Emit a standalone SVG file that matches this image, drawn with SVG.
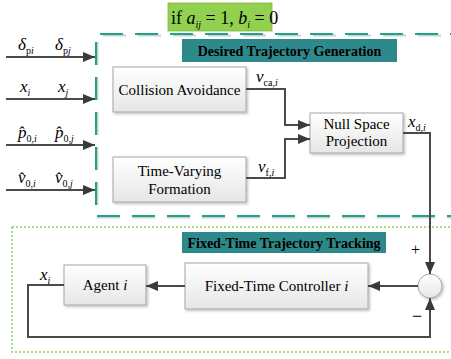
<svg xmlns="http://www.w3.org/2000/svg" width="451" height="359" viewBox="0 0 451 359">
  <style>
    .box { fill: url(#boxFill); stroke: #a6a6a6; stroke-width: 1; filter: url(#shadow); }
    .arr { fill: none; stroke: #4a4a4a; stroke-width: 2; marker-end: url(#head); }
  </style>
  <defs>
    <linearGradient id="boxFill" x1="0" y1="0" x2="0" y2="1">
      <stop offset="0" stop-color="#ffffff"/>
      <stop offset="1" stop-color="#e6e6e6"/>
    </linearGradient>
    <filter id="shadow" x="-10%" y="-10%" width="130%" height="140%">
      <feDropShadow dx="1.5" dy="1.5" stdDeviation="1" flood-color="#000" flood-opacity="0.25"/>
    </filter>
    <marker id="head" viewBox="0 0 12 10" refX="12" refY="5" markerWidth="12" markerHeight="10" markerUnits="userSpaceOnUse" orient="auto">
      <path d="M0,0 L12,5 L0,10 Z" fill="#3a3a3a"/>
    </marker>
  </defs>

  <!-- condition tag -->
  <g id="condition">
    <rect x="168" y="3" width="104" height="28" fill="#92d050" stroke="#7fb83e" stroke-width="0.8"/>
    <text font-family="Liberation Serif" font-size="18" x="171" y="24">if <tspan font-style="italic">a</tspan><tspan font-size="10" font-style="italic" dy="4">ij</tspan><tspan dy="-4"> = 1, </tspan><tspan font-style="italic">b</tspan><tspan font-size="10" font-style="italic" dy="4">i</tspan><tspan dy="-4"> = 0</tspan></text>
  </g>

  <!-- dashed frame: desired trajectory generation -->
  <g id="frame-generation">
    <path d="M470,217.5 L97.5,217.5 L97.5,35.5 L470,35.5" fill="none" stroke="#d0d0d0" stroke-width="2" stroke-dasharray="23 12"/>
    <path d="M470,216 L96,216 L96,34 L470,34" fill="none" stroke="#1fa38a" stroke-width="2" stroke-dasharray="23 12"/>
    <rect x="182" y="39" width="215" height="23" fill="#2e8a8a"/>
    <text font-family="Liberation Serif" font-size="14" font-weight="bold" text-anchor="middle" x="289.5" y="55.5">Desired Trajectory Generation</text>
  </g>

  <!-- dotted frame: fixed-time tracking -->
  <g id="frame-tracking">
    <rect x="12" y="227" width="460" height="125" fill="none" stroke="#92d050" stroke-width="1.5" stroke-dasharray="2 2"/>
    <rect x="182" y="232" width="204" height="21" fill="#2e8a8a"/>
    <text font-family="Liberation Serif" font-size="14" font-weight="bold" text-anchor="middle" x="284" y="247.5">Fixed-Time Trajectory Tracking</text>
  </g>

  <!-- nodes -->
  <g id="collision-avoidance">
    <rect class="box" x="113" y="67" width="133" height="45"/>
    <text font-family="Liberation Serif" font-size="15" text-anchor="middle" x="179.5" y="94.5">Collision Avoidance</text>
  </g>
  <g id="time-varying-formation">
    <rect class="box" x="113" y="157" width="133" height="45"/>
    <text font-family="Liberation Serif" font-size="15" text-anchor="middle" x="179.5" y="176">Time-Varying</text>
    <text font-family="Liberation Serif" font-size="15" text-anchor="middle" x="179.5" y="194">Formation</text>
  </g>
  <g id="null-space-projection">
    <rect class="box" x="310" y="113" width="93" height="40"/>
    <text font-family="Liberation Serif" font-size="15" text-anchor="middle" x="356.5" y="129">Null Space</text>
    <text font-family="Liberation Serif" font-size="15" text-anchor="middle" x="356.5" y="146">Projection</text>
  </g>
  <g id="agent">
    <rect class="box" x="64" y="265" width="82" height="40"/>
    <text font-family="Liberation Serif" font-size="15" text-anchor="middle" x="105" y="290">Agent <tspan font-style="italic">i</tspan></text>
  </g>
  <g id="controller">
    <rect class="box" x="185" y="263" width="183" height="46"/>
    <text font-family="Liberation Serif" font-size="15" text-anchor="middle" x="276.5" y="291">Fixed-Time Controller <tspan font-style="italic">i</tspan></text>
  </g>
  <g id="sum">
    <circle cx="430" cy="286" r="12" fill="url(#boxFill)" stroke="#a6a6a6" stroke-width="1" filter="url(#shadow)"/>
  </g>

  <!-- connectors -->
  <g id="connectors">
    <path class="arr" d="M6,57 L95,57"/>
    <path class="arr" d="M6,99 L95,99"/>
    <path class="arr" d="M6,145 L95,145"/>
    <path class="arr" d="M6,190 L95,190"/>
    <path class="arr" d="M246,89 L285,89 L285,125 L310,125"/>
    <path class="arr" d="M246,178 L285,178 L285,139 L310,139"/>
    <path class="arr" d="M403,133 L430,133 L430,274"/>
    <path class="arr" d="M418,286 L368,286"/>
    <path class="arr" d="M185,286 L146,286"/>
    <path class="arr" d="M64,285 L28,285 L28,337 L430,337 L430,298"/>
  </g>

  <!-- signal labels -->
  <g id="labels" font-family="Liberation Serif" font-size="17">
    <text x="18" y="50"><tspan font-style="italic">δ</tspan><tspan font-size="10" dy="4">p<tspan font-style="italic">i</tspan></tspan></text>
    <text x="55" y="50"><tspan font-style="italic">δ</tspan><tspan font-size="10" dy="4">p<tspan font-style="italic">j</tspan></tspan></text>
    <text x="20" y="92"><tspan font-style="italic">x</tspan><tspan font-size="10" font-style="italic" dy="4">i</tspan></text>
    <text x="58" y="92"><tspan font-style="italic">x</tspan><tspan font-size="10" font-style="italic" dy="4">j</tspan></text>
    <text x="18" y="138"><tspan font-style="italic">p̂</tspan><tspan font-size="10" dy="4">0,<tspan font-style="italic">i</tspan></tspan></text>
    <text x="55" y="138"><tspan font-style="italic">p̂</tspan><tspan font-size="10" dy="4">0,<tspan font-style="italic">j</tspan></tspan></text>
    <text x="18" y="183"><tspan font-style="italic">v̂</tspan><tspan font-size="10" dy="4">0,<tspan font-style="italic">i</tspan></tspan></text>
    <text x="55" y="183"><tspan font-style="italic">v̂</tspan><tspan font-size="10" dy="4">0,<tspan font-style="italic">j</tspan></tspan></text>
    <text x="256" y="82"><tspan font-style="italic">v</tspan><tspan font-size="10" dy="4">ca,<tspan font-style="italic">i</tspan></tspan></text>
    <text x="258" y="172"><tspan font-style="italic">v</tspan><tspan font-size="10" dy="4">f,<tspan font-style="italic">i</tspan></tspan></text>
    <text x="408" y="127"><tspan font-style="italic">x</tspan><tspan font-size="10" dy="4">d,<tspan font-style="italic">i</tspan></tspan></text>
    <text x="40" y="280"><tspan font-style="italic">x</tspan><tspan font-size="10" font-style="italic" dy="4">i</tspan></text>
    <text x="411" y="255" font-size="16">+</text>
    <text x="412" y="322" font-size="18">−</text>
  </g>
</svg>
